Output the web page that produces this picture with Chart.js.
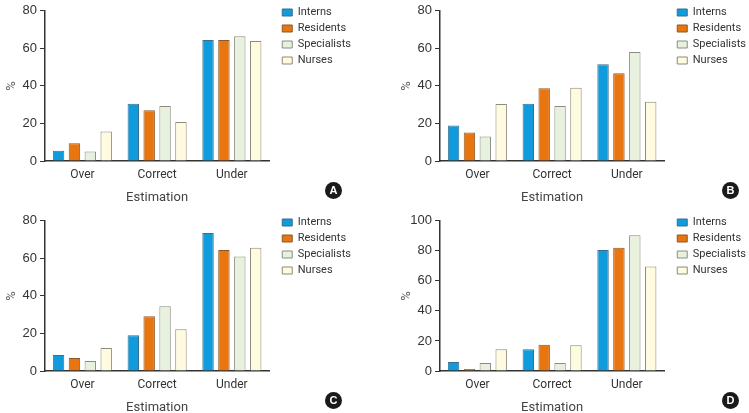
<!DOCTYPE html>
<html>
<head>
<meta charset="utf-8">
<script src="https://cdn.jsdelivr.net/npm/chart.js@4.4.0/dist/chart.umd.min.js"></script>
<style>
  body { margin: 0; background: #fff; }
  #wrap { position: relative; width: 749px; height: 413px; }
  .panel { position: absolute; width: 354px; height: 210px; }
  .badge {
    position: absolute; width: 17px; height: 17px; border-radius: 50%;
    background: #1a1a1a; color: #fff; font: bold 11px 'Liberation Sans', Arial, sans-serif;
    text-align: center; line-height: 17px;
  }
</style>
</head>
<body>
<div id="wrap">
  <div class="panel" style="left:0;top:0"><canvas id="chartA"></canvas></div>
  <div class="panel" style="left:395px;top:0"><canvas id="chartB"></canvas></div>
  <div class="panel" style="left:0;top:210px"><canvas id="chartC"></canvas></div>
  <div class="panel" style="left:395px;top:210px"><canvas id="chartD"></canvas></div>
  <div class="badge" style="left:325px;top:182px">A</div>
  <div class="badge" style="left:722px;top:182px">B</div>
  <div class="badge" style="left:325px;top:392px">C</div>
  <div class="badge" style="left:722px;top:392px">D</div>
</div>
<script>
const categories = ['Over', 'Correct', 'Under'];
const groups = ['Interns', 'Residents', 'Specialists', 'Nurses'];

// A
const internsA = [5.5, 30.5, 64.4];
const residentsA = [9.4, 27.0, 64.4];
const specialistsA = [5.1, 29.3, 66.5];
const nursesA = [15.7, 20.8, 63.9];
// B
const internsB = [18.9, 30.5, 51.5];
const residentsB = [15.2, 38.8, 46.8];
const specialistsB = [13.1, 29.3, 58.1];
const nursesB = [30.3, 39.0, 31.6];
// C
const internsC = [8.5, 19.0, 73.5];
const residentsC = [6.9, 29.2, 64.5];
const specialistsC = [5.3, 34.5, 61.0];
const nursesC = [12.2, 22.2, 65.6];
// D
const internsD = [6.0, 14.5, 80.6];
const residentsD = [1.3, 17.4, 82.0];
const specialistsD = [5.3, 5.3, 90.3];
const nursesD = [14.5, 17.2, 69.6];

const fills = ['#0f9bdc', '#e8750f', '#e8f0de', '#fefbe1'];
const edges = ['#3c6f8c', '#8a5a2a', '#8c8c84', '#8c8a78'];
const narrow = "Roboto, 'Liberation Sans', sans-serif";

function makePanel(id, series, yMax) {
  const ctx = document.getElementById(id).getContext('2d');
  return new Chart(ctx, {
    type: 'bar',
    data: {
      labels: categories,
      datasets: series.map((vals, i) => ({
        label: groups[i],
        data: vals,
        backgroundColor: fills[i],
        borderColor: edges[i],
        borderWidth: 1,
        borderSkipped: 'bottom',
        categoryPercentage: 0.85,
        barPercentage: 0.72
      }))
    },
    options: {
      responsive: true,
      maintainAspectRatio: false,
      animation: false,
      layout: { padding: { top: 2, right: -7, bottom: 0, left: 0 } },
      plugins: {
        tooltip: { enabled: false },
        legend: {
          position: 'right',
          align: 'start',
          maxWidth: 100,
          labels: {
            boxWidth: 10,
            boxHeight: 7,
            padding: 5,
            color: '#333',
            font: { family: narrow, size: 11 }
          }
        }
      },
      scales: {
        x: {
          grid: { display: false, drawTicks: false },
          border: { color: '#333', width: 1.5 },
          ticks: { color: '#333', font: { family: narrow, size: 12 }, padding: 7 },
          title: { display: true, text: 'Estimation', color: '#444', font: { family: narrow, size: 13 }, padding: { top: 5 } },
          afterFit: s => { s.height = 49; }
        },
        y: {
          min: 0,
          max: yMax,
          ticks: { stepSize: 20, color: '#333', font: { family: "'Liberation Sans', Arial, sans-serif", size: 13 }, padding: 3 },
          grid: { drawOnChartArea: false, drawTicks: true, tickLength: 5, color: '#333' },
          border: { color: '#333', width: 1.5 },
          title: { display: true, text: '%', color: '#555', font: { family: narrow, size: 13 }, padding: { top: 4, bottom: 0 } },
          afterFit: s => { s.width = 45; }
        },
        // empty spacer between plot and legend
        gap: {
          position: 'right',
          display: true,
          grid: { display: false },
          border: { display: false },
          ticks: { display: false },
          afterFit: s => { s.width = 8; }
        }
      }
    }
  });
}

makePanel('chartA', [internsA, residentsA, specialistsA, nursesA], 80);
makePanel('chartB', [internsB, residentsB, specialistsB, nursesB], 80);
makePanel('chartC', [internsC, residentsC, specialistsC, nursesC], 80);
makePanel('chartD', [internsD, residentsD, specialistsD, nursesD], 100);
</script>
</body>
</html>
